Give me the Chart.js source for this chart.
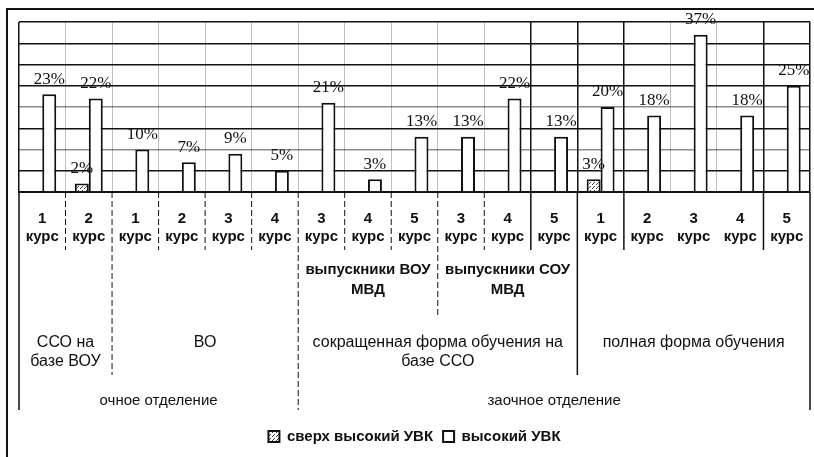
<!DOCTYPE html>
<html>
<head>
<meta charset="utf-8">
<script src="https://cdn.jsdelivr.net/npm/chart.js@4.4.0/dist/chart.umd.min.js"></script>
<style>
  body { margin: 0; background: #fff; }
</style>
</head>
<body>
<canvas id="c" width="814" height="457"></canvas>
<script>
// курсы (нижний ряд подписей оси X)
var courses = [
    ["1", "курс"], ["2", "курс"],
    ["1", "курс"], ["2", "курс"], ["3", "курс"], ["4", "курс"],
    ["3", "курс"], ["4", "курс"], ["5", "курс"],
    ["3", "курс"], ["4", "курс"], ["5", "курс"],
    ["1", "курс"], ["2", "курс"], ["3", "курс"], ["4", "курс"], ["5", "курс"]
];
// значения, %
var veryHigh = [0, 2, 0, 0, 0, 0, 0, 0, 0, 0, 0, 0, 3, 0, 0, 0, 0];
var high = [23, 22, 10, 7, 9, 5, 21, 3, 13, 13, 22, 13, 20, 18, 37, 18, 25];
var seriesNames = ["сверх высокий УВК", "высокий УВК"];

// группы подписей: [текст, первая категория, последняя категория]
var level2 = [
    [["выпускники ВОУ", "МВД"], 6, 8],
    [["выпускники СОУ", "МВД"], 9, 11]
];
var level3 = [
    [["ССО на", "базе ВОУ"], 0, 1],
    [["ВО"], 2, 5],
    [["сокращенная форма обучения на", "базе ССО"], 6, 11],
    [["полная форма обучения"], 12, 16]
];
var level4 = [
    [["очное отделение"], 0, 5],
    [["заочное отделение"], 6, 16]
];

// разделители таблицы под осью: [номер границы, нижний край, пунктир]
var separators = [
    [1, 250, true], [2, 375, true], [3, 250, true], [4, 250, true], [5, 250, true],
    [6, 410, true], [7, 250, true], [8, 250, true], [9, 315, true], [10, 250, true],
    [11, 250, false], [12, 375, false], [13, 250, false], [16, 250, false]
];
var solidGrid = [0, 11, 12, 13, 16];

var ctx = document.getElementById("c").getContext("2d");

function makeHatch() {
    var p = document.createElement("canvas");
    p.width = 4;
    p.height = 4;
    var g = p.getContext("2d");
    g.fillStyle = "#fff";
    g.fillRect(0, 0, 4, 4);
    g.fillStyle = "#444";
    g.fillRect(0, 0, 1, 1);
    g.fillRect(2, 2, 1, 1);
    g.fillRect(1, 3, 1, 1);
    return ctx.createPattern(p, "repeat");
}

function drawLines(c, lines, x, y, lh) {
    for (var i = 0; i < lines.length; i++) {
        c.fillText(lines[i], x, y + i * lh);
    }
}

var valueLabels = {
    id: "valueLabels",
    afterDatasetsDraw: function (chart) {
        var c = chart.ctx;
        c.save();
        c.font = "17px 'Liberation Serif'";
        c.fillStyle = "#111";
        c.textAlign = "center";
        c.textBaseline = "middle";
        chart.data.datasets.forEach(function (ds, di) {
            var meta = chart.getDatasetMeta(di);
            meta.data.forEach(function (bar, i) {
                var v = ds.data[i];
                if (!v) return;
                c.fillText(v + "%", bar.x, bar.y - 15);
            });
        });
        c.restore();
    }
};

var tableLabels = {
    id: "tableLabels",
    afterDraw: function (chart) {
        var c = chart.ctx;
        var xs = chart.scales.x;
        var cw = xs.width / courses.length;
        var top = chart.chartArea.bottom;
        function edge(k) { return xs.left + k * cw; }
        c.save();
        // рамка
        c.strokeStyle = "#111";
        c.lineWidth = 2;
        c.beginPath();
        c.moveTo(7, 457);
        c.lineTo(7, 9);
        c.lineTo(814, 9);
        c.stroke();
        // боковые линии таблицы
        c.lineWidth = 1.5;
        c.beginPath();
        c.moveTo(edge(0), top);
        c.lineTo(edge(0), 410);
        c.moveTo(edge(courses.length), top);
        c.lineTo(edge(courses.length), 410);
        c.stroke();
        separators.forEach(function (s) {
            c.setLineDash(s[2] ? [6, 3] : []);
            c.lineWidth = s[2] ? 1 : 1.5;
            c.beginPath();
            c.moveTo(edge(s[0]), top);
            c.lineTo(edge(s[0]), s[1]);
            c.stroke();
        });
        c.setLineDash([]);
        c.fillStyle = "#111";
        c.textAlign = "center";
        c.textBaseline = "middle";
        c.font = "bold 15px 'Liberation Sans'";
        level2.forEach(function (g) {
            drawLines(c, g[0], (edge(g[1]) + edge(g[2] + 1)) / 2, 270, 20);
        });
        c.font = "16px 'Liberation Sans'";
        level3.forEach(function (g) {
            drawLines(c, g[0], (edge(g[1]) + edge(g[2] + 1)) / 2, 343, 19);
        });
        c.font = "15px 'Liberation Sans'";
        level4.forEach(function (g) {
            drawLines(c, g[0], (edge(g[1]) + edge(g[2] + 1)) / 2, 401, 20);
        });
        c.restore();
    }
};

var chart = new Chart(ctx, {
    type: "bar",
    data: {
        labels: courses,
        datasets: [
            {
                label: seriesNames[0],
                data: veryHigh,
                backgroundColor: makeHatch(),
                borderColor: "#111",
                borderWidth: 2
            },
            {
                label: seriesNames[1],
                data: high,
                backgroundColor: "#fff",
                borderColor: "#111",
                borderWidth: 2
            }
        ]
    },
    options: {
        responsive: false,
        animation: false,
        devicePixelRatio: 1,
        layout: { padding: { top: 22, left: 19, right: 4, bottom: 3 } },
        datasets: { bar: { categoryPercentage: 0.6, barPercentage: 1.0 } },
        scales: {
            x: {
                offset: true,
                grid: {
                    offset: true,
                    drawTicks: true,
                    tickLength: 10,
                    tickColor: "rgba(0,0,0,0)",
                    color: function (context) {
                        if (context.index === undefined || solidGrid.indexOf(context.index) >= 0) return "#111";
                        return "rgba(0,0,0,0.25)";
                    },
                    lineWidth: function (context) {
                        if (context.index === undefined || solidGrid.indexOf(context.index) >= 0) return 1.5;
                        return 1;
                    }
                },
                border: { color: "#111", width: 2 },
                ticks: {
                    autoSkip: false,
                    maxRotation: 0,
                    padding: 8,
                    color: "#111",
                    font: { family: "'Liberation Sans'", size: 15, weight: "bold", lineHeight: 1.2 }
                },
                afterFit: function (scale) { scale.height = 227; }
            },
            y: {
                min: 0,
                max: 40,
                ticks: { display: false, stepSize: 5 },
                border: { display: false },
                grid: {
                    drawTicks: false,
                    color: function (context) {
                        var v = context.tick ? context.tick.value : 0;
                        return (v === 10 || v === 20) ? "rgba(0,0,0,0.45)" : "#111";
                    },
                    lineWidth: 1.5
                }
            }
        },
        plugins: {
            legend: {
                position: "bottom",
                labels: {
                    boxWidth: 11,
                    boxHeight: 11,
                    padding: 10,
                    color: "#111",
                    font: { family: "'Liberation Sans'", size: 15, weight: "bold" }
                }
            },
            tooltip: { enabled: false }
        }
    },
    plugins: [valueLabels, tableLabels]
});
</script>
</body>
</html>
